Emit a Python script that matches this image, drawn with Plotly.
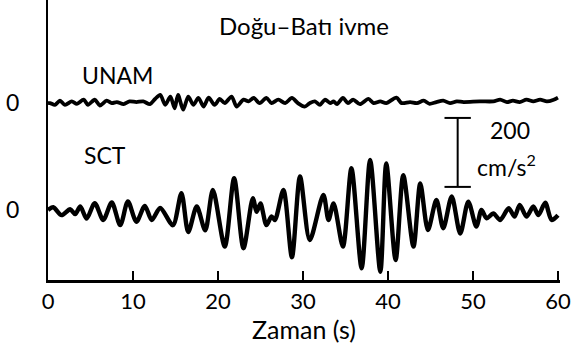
import plotly.graph_objects as go

# ---------------- data ----------------
# Time (s) and acceleration (cm/s^2) at turning points of each record
unam_t = [0.0, 0.24, 0.82, 1.41, 2.0, 2.8, 3.4, 4.2, 4.7, 5.5, 6.1, 6.9, 7.5, 8.1, 8.9, 9.6,
          10.4, 11.2, 12.0, 12.6, 13.2, 13.8, 14.4, 14.9, 15.3, 15.9, 16.5, 17.1, 17.7, 18.3,
          18.9, 19.6, 20.2, 20.8, 21.6, 22.2, 23.0, 23.6, 24.2, 24.9, 25.7, 26.3, 27.1, 27.9,
          28.7, 29.4, 30.2, 30.8, 31.4, 32.0, 32.6, 33.2, 33.6, 34.0, 34.7, 35.3, 35.9, 36.7,
          37.7, 38.3, 39.1, 39.8, 41.0, 41.6, 42.6, 43.4, 44.2, 44.9, 45.7, 46.5, 47.3, 48.1,
          48.9, 50.8, 52.4, 53.2, 54.0, 54.7, 55.5, 56.3, 57.1, 57.9, 58.7, 59.5, 60.0]
unam_a = [0, 0, -5, 7, -5, 5, -2, 10, -5, 10, -7, 7, 0, 3, -3, 5,
          3, 5, -3, 12, 24, -5, 19, -15, 24, -19, 19, -5, 15, -10,
          16, -5, 12, 0, 19, -10, 10, 5, 15, 0, 15, 0, 10, 0,
          15, 0, -10, 0, 5, -5, 10, 0, 5, -3, 15, 0, 10, -3,
          12, 0, 5, 0, 16, 0, 3, 0, 7, -2, 3, 7, 0, 5,
          3, 5, 5, 10, 3, 7, 3, 10, 5, 10, 5, 10, 16]

sct_t = [0.0, 0.62, 1.6, 2.6, 3.2, 3.8, 4.55, 5.5, 6.5, 7.5, 8.5, 9.4, 10.4, 11.4, 12.2, 13.2,
         14.7, 15.7, 16.5, 17.5, 18.5, 19.4, 20.8, 21.9, 23.0, 24.1, 24.55, 25.0, 25.7, 26.3,
         26.7, 27.7, 28.7, 29.65, 30.8, 32.4, 33.0, 33.6, 34.7, 35.7, 36.9, 37.9, 39.1, 39.8,
         40.9, 41.8, 43.0, 43.8, 44.7, 45.7, 46.5, 47.5, 48.5, 49.45, 50.4, 51.0, 51.6, 52.4,
         53.2, 54.2, 54.9, 55.5, 56.3, 57.1, 57.7, 58.5, 59.25, 60.0]
sct_a = [0, 8, -15, 2, -12, 10, -25, 20, -29, 22, -44, 25, -34, 12, -29, 6,
         -44, 49, -64, 10, -59, 58, -106, 92, -111, 34, -5, 19, -44, -19,
         -29, 58, -137, 97, -87, 44, -29, 19, -106, 121, -169, 145, -179, 135,
         -145, 101, -106, 77, -58, 29, -53, 39, -68, 24, -48, 0, -24, -10,
         -29, 5, -19, 15, -19, 10, -15, 21, -29, -15]

x_ticks = [0, 10, 20, 30, 40, 50, 60]
station_names = ["UNAM", "SCT"]
title_text = "Doğu–Batı ivme"
x_title = "Zaman (s)"
scale_value = 200
scale_unit = "cm/s<sup>2</sup>"

# ---------------- layout constants ----------------
UNAM_OFFSET = 0
SCT_OFFSET = -310
FONT = "Lato, 'Open Sans', sans-serif"
FS = 23
SCALE_X = 48.2
SCALE_TOP = -43

fig = go.Figure()
fig.add_trace(go.Scatter(
    x=unam_t, y=[v + UNAM_OFFSET for v in unam_a], mode="lines",
    line=dict(color="black", width=3.8, shape="spline", smoothing=0.8),
    hoverinfo="skip", showlegend=False))
fig.add_trace(go.Scatter(
    x=sct_t, y=[v + SCT_OFFSET for v in sct_a], mode="lines",
    line=dict(color="black", width=4.4, shape="spline", smoothing=0.8),
    hoverinfo="skip", showlegend=False))

# scale bar
fig.add_shape(type="line", x0=SCALE_X, x1=SCALE_X, y0=SCALE_TOP, y1=SCALE_TOP - scale_value,
              line=dict(color="black", width=2))
for yy in (SCALE_TOP, SCALE_TOP - scale_value):
    fig.add_shape(type="line", x0=SCALE_X - 1.55, x1=SCALE_X + 1.55, y0=yy, y1=yy,
                  line=dict(color="black", width=2))

txt = dict(size=FS, color="black", family=FONT)
ann = []
ann.append(dict(x=0.5, xref="paper", y=226, yref="y", text=title_text, showarrow=False,
                font=dict(size=24, color="black", family=FONT), xanchor="center", yanchor="middle"))
ann.append(dict(x=3.8, y=81, text=station_names[0], showarrow=False,
                font=txt, xanchor="left", yanchor="middle"))
ann.append(dict(x=4.0, y=-151, text=station_names[1], showarrow=False,
                font=txt, xanchor="left", yanchor="middle"))
ann.append(dict(x=0, xref="paper", y=UNAM_OFFSET + 3, text="0", showarrow=False,
                xanchor="center", yanchor="middle", font=txt, xshift=-36))
ann.append(dict(x=0, xref="paper", y=SCT_OFFSET + 3, text="0", showarrow=False,
                xanchor="center", yanchor="middle", font=txt, xshift=-36))
ann.append(dict(x=54.3, y=-78, text=str(scale_value), showarrow=False,
                font=txt, xanchor="center", yanchor="middle"))
ann.append(dict(x=54.0, y=-180, text=scale_unit, showarrow=False,
                font=txt, xanchor="center", yanchor="middle"))

fig.update_layout(
    width=573, height=345,
    margin=dict(l=48, r=13, t=0, b=65),
    paper_bgcolor="white", plot_bgcolor="white",
    annotations=ann,
    xaxis=dict(range=[0, 60.24], tickvals=x_ticks, ticktext=[str(v) for v in x_ticks],
               ticks="inside", ticklen=9, tickwidth=2, tickcolor="black",
               showline=True, linecolor="black", linewidth=2.5, showgrid=False, zeroline=False,
               tickfont=dict(size=22, color="black", family=FONT),
               title=dict(text=x_title, font=dict(size=25, color="black", family=FONT), standoff=0)),
    yaxis=dict(range=[-513, 299], showticklabels=False, ticks="", showgrid=False, zeroline=False,
               showline=True, linecolor="black", linewidth=2),
)

fig.write_html("out.html", post_script="document.body.style.margin='0';",
               config={"displayModeBar": False, "staticPlot": True})
